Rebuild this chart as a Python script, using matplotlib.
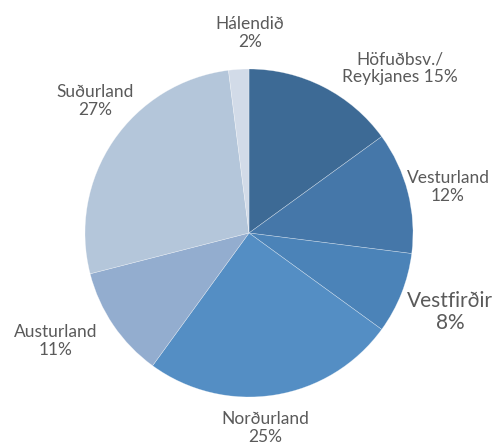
import matplotlib
matplotlib.use("Agg")
import matplotlib.pyplot as plt

regions = ["Höfuðbsv./\nReykjanes", "Vesturland", "Vestfirðir", "Norðurland",
           "Austurland", "Suðurland", "Hálendið"]
shares = [15, 12, 8, 25, 11, 27, 2]
colors = ["#3d6a95", "#4577a9", "#4b83b8", "#548ec4", "#93adcf", "#b4c6da", "#d2dbe8"]

label_texts = ["Höfuðbsv./\nReykjanes 15%", "Vesturland\n12%", "Vestfirðir\n8%",
               "Norðurland\n25%", "Austurland\n11%", "Suðurland\n27%", "Hálendið\n2%"]
label_pos = [(400, 68), (448, 187), (450, 312), (265, 428), (56, 341), (95, 101), (250, 33)]
label_size = [12.5, 12.5, 15, 12.5, 12.5, 12.5, 12.5]

W, H = 494, 448
fig = plt.figure(figsize=(W / 100, H / 100), dpi=100)
ax = fig.add_axes([0, 0, 1, 1])

cx, cy, r = 249, 233, 164
ax.pie(shares, colors=colors, startangle=90, counterclock=False,
       center=(cx, H - cy), radius=r, frame=True,
       wedgeprops=dict(edgecolor=(1, 1, 1, 0.45), linewidth=0.4))
ax.set_xlim(0, W)
ax.set_ylim(0, H)
ax.set_aspect("equal")
ax.axis("off")

for txt, (x, y), fs in zip(label_texts, label_pos, label_size):
    ax.text(x, H - y, txt, ha="center", va="center", fontsize=fs, color="#5a5a5a",
            family=["Lato", "DejaVu Sans"], weight="normal", linespacing=1.1)

fig.savefig("out.png", dpi=100)
